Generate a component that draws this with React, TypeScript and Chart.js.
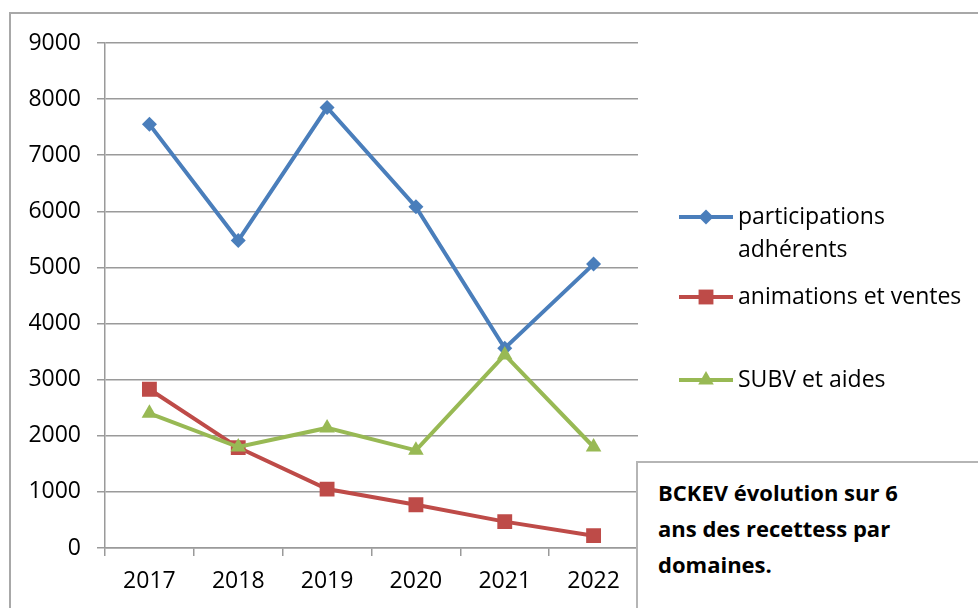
import React, { useEffect, useRef } from "react";
import { Chart, registerables } from "chart.js";
import { drawPoint } from "chart.js/helpers";

Chart.register(...registerables);

const years = ["2017", "2018", "2019", "2020", "2021", "2022"];
const participations = [7550, 5480, 7850, 6080, 3560, 5060];
const animations = [2830, 1790, 1050, 770, 470, 220];
const subventions = [2400, 1800, 2140, 1740, 3440, 1800];
const seriesNames = [["participations", "adhérents"], ["animations et ventes"], ["SUBV et aides"]];
const yTicks = [0, 1000, 2000, 3000, 4000, 5000, 6000, 7000, 8000, 9000];
const noteLines = ["BCKEV évolution sur 6", "ans des recettess par", "domaines."];

const FONT = "'Open Sans', 'Noto Sans', sans-serif";
const COLORS = ["#4A7EBB", "#BE4B48", "#98B954"];
const STYLES = ["rectRot", "rect", "triangle"];
const RADII = [7.5, 10.5, 9];

const legendPlugin = {
  id: "customLegend",
  afterDraw(chart: any) {
    const ctx = chart.ctx;
    const rows = [217, 297, 380];
    const x0 = 679;
    const x1 = 733;
    ctx.save();
    seriesNames.forEach((lines, i) => {
      const y = rows[i];
      ctx.strokeStyle = COLORS[i];
      ctx.lineWidth = 4;
      ctx.beginPath();
      ctx.moveTo(x0, y);
      ctx.lineTo(x1, y);
      ctx.stroke();
      ctx.fillStyle = COLORS[i];
      drawPoint(ctx, { pointStyle: STYLES[i], radius: RADII[i], borderWidth: 0, rotation: 0 } as any, (x0 + x1) / 2, y);
      ctx.fillStyle = "#000";
      ctx.font = `23px ${FONT}`;
      ctx.textBaseline = "middle";
      ctx.textAlign = "left";
      lines.forEach((t, j) => ctx.fillText(t, 738, y + j * 33));
    });
    ctx.restore();
  },
};

export default function App() {
  const ref = useRef<HTMLCanvasElement>(null);
  useEffect(() => {
    if (!ref.current) return;
    const mk = (label: string, data: number[], i: number, order: number) => ({
      label,
      data,
      borderColor: COLORS[i],
      backgroundColor: COLORS[i],
      pointBackgroundColor: COLORS[i],
      pointBorderColor: COLORS[i],
      pointBorderWidth: 0,
      borderWidth: 4,
      pointStyle: STYLES[i],
      pointRadius: RADII[i],
      pointHoverRadius: RADII[i],
      tension: 0,
      order,
    });
    const chart = new Chart(ref.current, {
      type: "line",
      data: {
        labels: years,
        datasets: [
          mk(seriesNames[0].join(" "), participations, 0, 2),
          mk(seriesNames[1][0], animations, 1, 1),
          mk(seriesNames[2][0], subventions, 2, 0),
        ] as any,
      },
      options: {
        animation: false,
        responsive: false,
        layout: { padding: { left: 0, top: 43, right: 340, bottom: 0 } },
        plugins: { legend: { display: false }, tooltip: { enabled: false } },
        scales: {
          x: {
            offset: true,
            grid: { offset: true, drawOnChartArea: false, drawTicks: true, tickLength: 8, color: "#9a9a9a", lineWidth: 1.5 },
            border: { color: "#9a9a9a", width: 1.5 },
            ticks: { color: "#000", font: { family: FONT, size: 23 }, padding: 12, maxRotation: 0 },
            afterFit: (s: any) => { s.height = 60; },
          },
          y: {
            min: 0,
            max: 9000,
            afterBuildTicks: (s: any) => { s.ticks = yTicks.map((v) => ({ value: v })); },
            grid: { color: "#9a9a9a", lineWidth: 1.5, tickLength: 8 },
            border: { color: "#9a9a9a", width: 1.5 },
            ticks: { color: "#000", font: { family: FONT, size: 23 }, padding: 16, callback: (v: any) => String(v) },
            afterFit: (s: any) => { s.width = 105; },
          },
        },
      },
      plugins: [legendPlugin],
    });
    return () => chart.destroy();
  }, []);
  return (
    <div style={{ position: "fixed", left: 0, top: 0, width: 978, height: 608, background: "#fff", overflow: "hidden" }}>
      <div style={{ position: "absolute", left: 9, top: 12, width: 1100, height: 700, borderLeft: "2px solid #a8a8a8", borderTop: "2px solid #a8a8a8" }} />
      <canvas ref={ref} width={978} height={608} style={{ position: "absolute", left: 0, top: 0 }} />
      <div style={{ position: "absolute", left: 636, top: 461, width: 400, height: 200, background: "#fff", borderLeft: "2px solid #b5b5b5", borderTop: "2px solid #b5b5b5", boxSizing: "border-box", padding: "11px 0 0 20px", fontFamily: FONT, fontWeight: 700, fontSize: 22, lineHeight: "36px", color: "#000" }}>
        {noteLines.map((l, i) => <div key={i}>{l}</div>)}
      </div>
    </div>
  );
}
